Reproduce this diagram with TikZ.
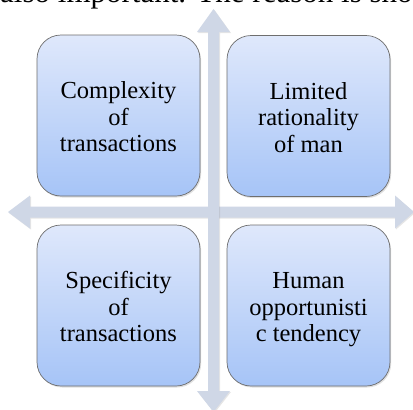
\documentclass[tikz,border=0pt]{standalone}
\usepackage{fontspec}
\setmainfont{Liberation Serif}
\usetikzlibrary{shadows,calc}
\definecolor{boxtop}{RGB}{223,232,251}
\definecolor{boxbot}{RGB}{166,196,247}
\definecolor{arrowc}{RGB}{207,215,230}
\definecolor{edgec}{RGB}{110,110,110}
\begin{document}
\begin{tikzpicture}[x=1pt,y=-1pt,
  quad/.style={draw=edgec, line width=0.7pt, rounded corners=24pt,
    top color=boxtop, bottom color=boxbot,
    drop shadow={opacity=0.25, shadow xshift=1.2pt, shadow yshift=-1.5pt},
    minimum width=163pt, minimum height=161pt, inner sep=0pt},
  quadtext/.style={align=center, inner sep=0pt, text=black,
    font=\fontsize{24.5}{26.5}\selectfont},
  axis/.style={fill=arrowc,
    drop shadow={opacity=0.2, shadow xshift=1pt, shadow yshift=-1pt}}]
\clip (0,0) rectangle (413,410);
\fill[white] (0,0) rectangle (413,410);
\node[anchor=base west, inner sep=0pt, font=\fontsize{31}{36}\selectfont] (topline) at (0,2.5) {also important. The reason is sho};
% axis end points
\coordinate (n) at (213.5,9);
\coordinate (s) at (213.5,412);
\coordinate (w) at (8,212);
\coordinate (e) at (414,212);
% horizontal double arrow
\path[axis] (w) -- ++(22,-16.5) -- ++(0,11) -- ($(e)+(-19,-5.5)$) -- ++(0,-11) -- (e)
  -- ++(-19,16.5) -- ++(0,-11) -- ($(w)+(22,5.5)$) -- ++(0,11) -- cycle;
% vertical double arrow
\path[axis] (n) -- ++(16.5,23) -- ++(-11,0) -- ($(s)+(5.5,-21)$) -- ++(11,0) -- (s)
  -- ++(-16.5,-21) -- ++(11,0) -- ($(n)+(-5.5,23)$) -- ++(-11,0) -- cycle;
% boxes
\node[quad] (tl) at (118.5,115.5) {};
\node[quad] (tr) at (308.5,116) {};
\node[quad] (bl) at (118.5,305.5) {};
\node[quad] (br) at (308.5,305.5) {};
\node[quadtext] (tlt) at ($(tl.center)+(0,4.5)$) {\strut Complexity\\\strut of\\\strut transactions};
\node[quadtext] (trt) at ($(tr.center)+(0,4.5)$) {\strut Limited\\\strut rationality\\\strut of man};
\node[quadtext] (blt) at ($(bl.center)+(0,4.5)$) {\strut Specificity\\\strut of\\\strut transactions};
\node[quadtext] (brt) at ($(br.center)+(0,4.5)$) {\strut Human\\\strut opportunisti\\\strut c tendency};
\end{tikzpicture}
\end{document}
